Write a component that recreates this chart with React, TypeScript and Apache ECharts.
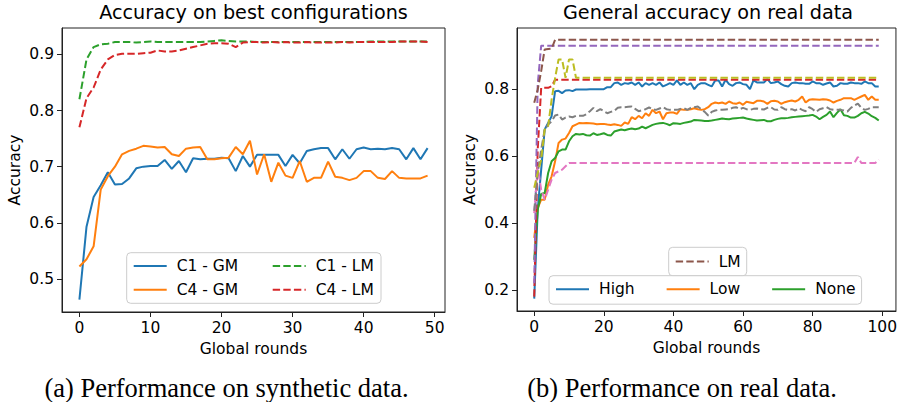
import React, { useEffect, useRef } from "react";
import * as echarts from "echarts";

// ---------- Left chart: synthetic data (rounds 0..49) ----------
const SYN_C1_GM = [0.463, 0.593, 0.646, 0.667, 0.690, 0.668, 0.669, 0.679, 0.697, 0.700, 0.701, 0.701, 0.712, 0.696, 0.710, 0.690, 0.715, 0.713, 0.714, 0.714, 0.716, 0.715, 0.692, 0.719, 0.700, 0.721, 0.721, 0.721, 0.721, 0.701, 0.721, 0.706, 0.728, 0.731, 0.733, 0.733, 0.713, 0.731, 0.714, 0.731, 0.734, 0.731, 0.732, 0.731, 0.733, 0.731, 0.713, 0.733, 0.713, 0.733];
const SYN_C4_GM = [0.522, 0.535, 0.558, 0.659, 0.683, 0.700, 0.722, 0.728, 0.732, 0.737, 0.736, 0.734, 0.735, 0.722, 0.719, 0.732, 0.734, 0.735, 0.713, 0.713, 0.715, 0.716, 0.735, 0.722, 0.746, 0.686, 0.722, 0.673, 0.707, 0.684, 0.680, 0.710, 0.673, 0.680, 0.680, 0.709, 0.682, 0.680, 0.676, 0.680, 0.692, 0.692, 0.680, 0.678, 0.692, 0.680, 0.679, 0.679, 0.679, 0.684];
const SYN_C1_LM = [0.820, 0.891, 0.913, 0.918, 0.919, 0.922, 0.922, 0.922, 0.921, 0.922, 0.923, 0.922, 0.922, 0.922, 0.922, 0.922, 0.922, 0.922, 0.923, 0.924, 0.925, 0.924, 0.923, 0.923, 0.923, 0.922, 0.922, 0.922, 0.922, 0.922, 0.922, 0.922, 0.922, 0.922, 0.922, 0.922, 0.922, 0.922, 0.922, 0.922, 0.922, 0.923, 0.923, 0.923, 0.923, 0.923, 0.923, 0.923, 0.923, 0.923];
const SYN_C4_LM = [0.770, 0.822, 0.841, 0.873, 0.891, 0.899, 0.901, 0.901, 0.901, 0.902, 0.903, 0.907, 0.905, 0.905, 0.907, 0.910, 0.913, 0.916, 0.919, 0.920, 0.920, 0.919, 0.913, 0.921, 0.922, 0.922, 0.921, 0.922, 0.921, 0.922, 0.921, 0.921, 0.922, 0.921, 0.921, 0.921, 0.921, 0.922, 0.921, 0.922, 0.922, 0.922, 0.922, 0.922, 0.922, 0.923, 0.923, 0.923, 0.923, 0.922];

// ---------- Right chart: real data (rounds 0..99) ----------
const REAL_HIGH = [0.174, 0.44, 0.56, 0.68, 0.70, 0.72, 0.795, 0.796, 0.789, 0.797, 0.798, 0.795, 0.800, 0.800, 0.800, 0.800,
  0.801, 0.801, 0.801, 0.801, 0.801, 0.807, 0.807, 0.819, 0.821, 0.814, 0.819, 0.817, 0.821, 0.814, 0.821,
  0.809, 0.819, 0.814, 0.819, 0.814, 0.821, 0.809, 0.814, 0.819, 0.814, 0.827, 0.814, 0.821, 0.814, 0.819,
  0.801, 0.814, 0.819, 0.819, 0.814, 0.809, 0.827, 0.827, 0.809, 0.829, 0.816, 0.811, 0.819, 0.821, 0.816,
  0.814, 0.801, 0.827, 0.821, 0.821, 0.821, 0.831, 0.819, 0.821, 0.824, 0.816, 0.811, 0.809, 0.819, 0.821,
  0.819, 0.819, 0.817, 0.817, 0.824, 0.819, 0.819, 0.814, 0.818, 0.821, 0.809, 0.811, 0.819, 0.817, 0.817,
  0.821, 0.819, 0.819, 0.817, 0.824, 0.819, 0.819, 0.809, 0.809];
const REAL_LOW = [0.356, 0.445, 0.47, 0.47, 0.515, 0.54, 0.585, 0.64, 0.65, 0.653, 0.67, 0.69, 0.695, 0.70, 0.699, 0.700,
  0.699, 0.698, 0.696, 0.697, 0.697, 0.695, 0.694, 0.696, 0.694, 0.691, 0.701, 0.697, 0.717, 0.711, 0.721,
  0.714, 0.729, 0.721, 0.739, 0.729, 0.734, 0.711, 0.729, 0.731, 0.731, 0.727, 0.741, 0.739, 0.739, 0.741,
  0.744, 0.741, 0.739, 0.741, 0.747, 0.757, 0.761, 0.759, 0.761, 0.757, 0.764, 0.759, 0.757, 0.761, 0.754,
  0.763, 0.761, 0.759, 0.766, 0.766, 0.764, 0.757, 0.765, 0.766, 0.764, 0.757, 0.762, 0.765, 0.767, 0.764,
  0.769, 0.779, 0.761, 0.769, 0.771, 0.770, 0.769, 0.771, 0.770, 0.767, 0.761, 0.766, 0.769, 0.774, 0.774,
  0.774, 0.769, 0.774, 0.779, 0.784, 0.769, 0.779, 0.769, 0.769];
const REAL_NONE = [0.29, 0.44, 0.487, 0.49, 0.55, 0.585, 0.595, 0.615, 0.62, 0.62, 0.645, 0.66, 0.667, 0.665, 0.667, 0.663,
  0.662, 0.669, 0.664, 0.666, 0.669, 0.664, 0.662, 0.674, 0.677, 0.680, 0.678, 0.681, 0.683, 0.681, 0.683,
  0.689, 0.684, 0.689, 0.694, 0.697, 0.699, 0.700, 0.697, 0.693, 0.699, 0.698, 0.697, 0.700, 0.702, 0.704,
  0.709, 0.708, 0.707, 0.706, 0.706, 0.707, 0.709, 0.711, 0.713, 0.712, 0.711, 0.713, 0.714, 0.715, 0.716,
  0.713, 0.711, 0.709, 0.707, 0.708, 0.709, 0.705, 0.705, 0.709, 0.712, 0.714, 0.714, 0.715, 0.717, 0.718,
  0.719, 0.720, 0.721, 0.722, 0.724, 0.719, 0.711, 0.718, 0.724, 0.734, 0.717, 0.730, 0.741, 0.723, 0.721,
  0.716, 0.716, 0.721, 0.729, 0.733, 0.728, 0.720, 0.715, 0.707];
const REAL_GREY = [0.437, 0.55, 0.62, 0.68, 0.695, 0.705, 0.722, 0.725, 0.71, 0.716, 0.719, 0.717, 0.721, 0.721, 0.721, 0.726,
  0.735, 0.745, 0.735, 0.741, 0.735, 0.729, 0.733, 0.736, 0.745, 0.747, 0.747, 0.748, 0.749, 0.742, 0.735,
  0.738, 0.741, 0.746, 0.741, 0.739, 0.743, 0.747, 0.741, 0.739, 0.739, 0.739, 0.742, 0.744, 0.739, 0.745,
  0.747, 0.749, 0.741, 0.733, 0.722, 0.733, 0.737, 0.739, 0.739, 0.740, 0.741, 0.745, 0.747, 0.741, 0.745,
  0.741, 0.739, 0.742, 0.743, 0.741, 0.740, 0.745, 0.747, 0.740, 0.739, 0.747, 0.741, 0.739, 0.741, 0.737,
  0.744, 0.739, 0.735, 0.747, 0.741, 0.733, 0.741, 0.744, 0.747, 0.741, 0.739, 0.739, 0.739, 0.737, 0.734,
  0.745, 0.752, 0.758, 0.745, 0.739, 0.742, 0.747, 0.747, 0.747];
// flat dashed curves: [round, accuracy] breakpoints
const REAL_RED = [[0, 0.18], [1, 0.62], [2, 0.805], [3, 0.805], [4, 0.805], [5, 0.81], [6, 0.829], [99, 0.829]];
const REAL_PURPLE = [[0, 0.22], [1, 0.815], [2, 0.931], [99, 0.931]];
const REAL_BROWN_LM = [[0, 0.76], [1, 0.80], [2, 0.855], [3, 0.92], [4, 0.921], [5, 0.922], [6, 0.949], [99, 0.949]];
const REAL_PINK = [[0, 0.43], [1, 0.57], [2, 0.50], [3, 0.47], [4, 0.50], [5, 0.53], [6, 0.55], [7, 0.555], [8, 0.56], [9, 0.57], [10, 0.58], [92, 0.58], [93, 0.598], [94, 0.58], [98, 0.58], [99, 0.59]];
const REAL_OLIVE = [[0, 0.506], [1, 0.55], [2, 0.59], [3, 0.68], [4, 0.69], [5, 0.77], [6, 0.835], [7, 0.89], [8, 0.89], [9, 0.835], [10, 0.89], [11, 0.89], [12, 0.835], [99, 0.835]];

const LEFT_X_TICKS = [0, 10, 20, 30, 40, 50];
const LEFT_Y_TICKS = [0.5, 0.6, 0.7, 0.8, 0.9];
const RIGHT_X_TICKS = [0, 20, 40, 60, 80, 100];
const RIGHT_Y_TICKS = [0.2, 0.4, 0.6, 0.8];

const FONT = "DejaVu Sans";
const TXT = "#000";
const AX = "#222";
const FS = 15.5;
const DASH = [7.4, 3.2];

const idx = (arr: number[]) => arr.map((v, i) => [i, v]);

function xAxisCfg(gridIndex: number, min: number, max: number, ticks: number[]) {
  return {
    type: "value", gridIndex, min, max,
    name: "Global rounds", nameLocation: "middle", nameGap: 27,
    nameTextStyle: { fontFamily: FONT, fontSize: FS, color: TXT },
    axisLine: { show: true, onZero: false, lineStyle: { color: AX, width: 1 } },
    axisTick: { show: true, length: 5, lineStyle: { color: AX, width: 1 }, customValues: ticks },
    axisLabel: { show: true, margin: 8, fontFamily: FONT, fontSize: FS, color: TXT, customValues: ticks, formatter: (v: number) => String(v) },
    splitLine: { show: false },
  };
}
function yAxisCfg(gridIndex: number, min: number, max: number, ticks: number[]) {
  return {
    type: "value", gridIndex, min, max,
    name: "Accuracy", nameLocation: "middle", nameGap: 39,
    nameTextStyle: { fontFamily: FONT, fontSize: FS, color: TXT },
    axisLine: { show: true, onZero: false, lineStyle: { color: AX, width: 1 } },
    axisTick: { show: true, length: 5, lineStyle: { color: AX, width: 1 }, customValues: ticks },
    axisLabel: { show: true, margin: 8, fontFamily: FONT, fontSize: FS, color: TXT, customValues: ticks, formatter: (v: number) => v.toFixed(1) },
    splitLine: { show: false },
  };
}
function line(name: string, data: any[], color: string, ax: number, dashed: boolean) {
  return {
    type: "line", name, data, xAxisIndex: ax, yAxisIndex: ax,
    symbol: "none", showSymbol: false, silent: true,
    lineStyle: { color, width: 2, type: dashed ? DASH : "solid" },
    itemStyle: { color },
  };
}

const legendCommon = {
  orient: "horizontal",
  selectedMode: false,
  itemWidth: 33,
  itemHeight: 14,
  backgroundColor: "rgba(255,255,255,0.8)",
  borderColor: "#cccccc",
  borderWidth: 1,
  borderRadius: 4,
  itemStyle: { color: "rgba(0,0,0,0)", borderWidth: 0, borderColor: "rgba(0,0,0,0)" },
  textStyle: { fontFamily: FONT, fontSize: FS, color: TXT, padding: [0, 0, 0, 5] },
};
const legendColumn = {
  ...legendCommon,
  orient: "vertical",
  backgroundColor: "transparent",
  borderWidth: 0,
  padding: 0,
  itemGap: 7.8,
  top: 258,
};

function textEl(text: string, x: number, y: number, size: number, family: string) {
  return {
    type: "text", x, y, silent: true,
    style: { text, fontSize: size, fontFamily: family, fill: TXT, align: "center", verticalAlign: "middle", textAlign: "center", textVerticalAlign: "middle" },
  };
}

export default function App() {
  const ref = useRef<HTMLDivElement>(null);
  useEffect(() => {
    const chart = echarts.init(ref.current!, null, { renderer: "svg" });
    chart.setOption({
      animation: false,
      backgroundColor: "#ffffff",
      grid: [
        { left: 62, top: 28, width: 383, height: 284, show: true, borderColor: AX, borderWidth: 1, backgroundColor: "transparent" },
        { left: 517, top: 28, width: 382, height: 283, show: true, borderColor: AX, borderWidth: 1, backgroundColor: "transparent" },
      ],
      xAxis: [xAxisCfg(0, -2.45, 51.45, LEFT_X_TICKS), xAxisCfg(1, -4.95, 103.95, RIGHT_X_TICKS)],
      yAxis: [yAxisCfg(0, 0.441, 0.947, LEFT_Y_TICKS), yAxisCfg(1, 0.137, 0.984, RIGHT_Y_TICKS)],
      legend: [
        { ...legendColumn, data: ["C1 - GM", "C4 - GM"], left: 132.7 },
        { ...legendColumn, data: ["C1 - LM", "C4 - LM"], left: 271.7 },
        { ...legendCommon, data: ["LM"], left: 668.7, top: 247.3, itemGap: 31, padding: [6.2, 6, 6.3, 6] },
        { ...legendCommon, data: ["High", "Low", "None"], left: 549, top: 275.7, itemGap: 31, padding: [5.5, 6, 7, 6] },
      ],
      graphic: [
        {
          type: "rect", z: 0, silent: true,
          shape: { x: 126.7, y: 252.7, width: 254.3, height: 50.6, r: 4 },
          style: { fill: "rgba(255,255,255,0.8)", stroke: "#cccccc", lineWidth: 1 },
        },
        textEl("Accuracy on best configurations", 253.5, 12.5, 19.2, FONT),
        textEl("General accuracy on real data", 708, 12.5, 19.2, FONT),
        textEl("(a) Performance on synthetic data.", 226.5, 388, 26.5, "Liberation Serif"),
        textEl("(b) Performance on real data.", 682, 388, 26.5, "Liberation Serif"),
      ],
      series: [
        line("C1 - GM", idx(SYN_C1_GM), "#1f77b4", 0, false),
        line("C4 - GM", idx(SYN_C4_GM), "#ff7f0e", 0, false),
        line("C1 - LM", idx(SYN_C1_LM), "#2ca02c", 0, true),
        line("C4 - LM", idx(SYN_C4_LM), "#d62728", 0, true),
        line("High", idx(REAL_HIGH), "#1f77b4", 1, false),
        line("Low", idx(REAL_LOW), "#ff7f0e", 1, false),
        line("None", idx(REAL_NONE), "#2ca02c", 1, false),
        line("LM red", REAL_RED, "#d62728", 1, true),
        line("LM purple", REAL_PURPLE, "#9467bd", 1, true),
        line("LM", REAL_BROWN_LM, "#8c564b", 1, true),
        line("LM pink", REAL_PINK, "#e377c2", 1, true),
        line("LM grey", idx(REAL_GREY), "#7f7f7f", 1, true),
        line("LM olive", REAL_OLIVE, "#bcbd22", 1, true),
      ],
    });
    return () => chart.dispose();
  }, []);
  return (
    <div
      ref={ref}
      style={{ position: "absolute", left: 0, top: 0, width: 900, height: 402, background: "#fff" }}
    />
  );
}
